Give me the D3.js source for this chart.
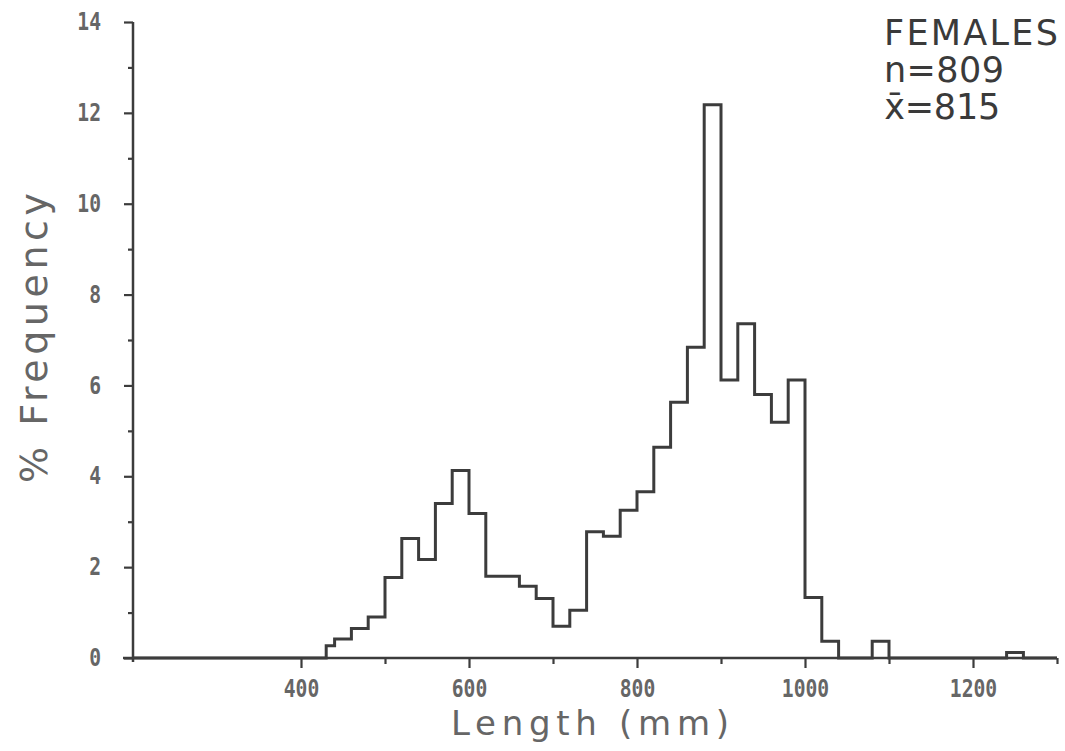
<!DOCTYPE html>
<html>
<head>
<meta charset="utf-8">
<script src="https://cdn.jsdelivr.net/npm/d3@7"></script>
<style>
  html, body { margin: 0; padding: 0; background: #fff; }
  svg { display: block; }
</style>
</head>
<body>
<svg id="chart" width="1065" height="751"></svg>
<script>
// ---- data ----
const binLower = [430, 440, 460, 480, 500, 520, 540, 560, 580, 600, 620, 640, 660, 680, 700, 720,
                  740, 760, 780, 800, 820, 840, 860, 880, 900, 920, 940, 960, 980, 1000, 1020,
                  1040, 1060, 1080, 1100, 1120, 1140, 1160, 1180, 1200, 1220, 1240];
const binUpper = [440, 460, 480, 500, 520, 540, 560, 580, 600, 620, 640, 660, 680, 700, 720, 740,
                  760, 780, 800, 820, 840, 860, 880, 900, 920, 940, 960, 980, 1000, 1020, 1040,
                  1060, 1080, 1100, 1120, 1140, 1160, 1180, 1200, 1220, 1240, 1260];
const pctFreq  = [0.27, 0.42, 0.65, 0.9, 1.77, 2.63, 2.17, 3.4, 4.13, 3.18, 1.8, 1.8, 1.58, 1.31, 0.7, 1.05,
                  2.78, 2.68, 3.25, 3.66, 4.64, 5.63, 6.84, 12.18, 6.12, 7.36, 5.8, 5.19, 6.12, 1.33, 0.37,
                  0, 0, 0.37, 0, 0, 0, 0, 0, 0, 0, 0.12];
const xDomain = [200, 1300];
const yDomain = [0, 14];
const xMajorTicks = [400, 600, 800, 1000, 1200];
const xMinorTicks = [500, 700, 900, 1100, 1300];
const yMajorTicks = [0, 2, 4, 6, 8, 10, 12, 14];
const yMinorTicks = [1, 3, 5, 7, 9, 11, 13];
const legendLines = ["FEMALES", "n=809", "x\u0304=815"];
const xTitle = "Length (mm)";
const yTitle = "% Frequency";

// ---- drawing ----
const ink = "#3c3c3c";
const textInk = "#666";
const svg = d3.select("#chart");

const x = d3.scaleLinear().domain(xDomain).range([133, 1057]);
const y = d3.scaleLinear().domain(yDomain).range([658, 22]);

// x axis (major + minor ticks, below)
const gx = svg.append("g").attr("transform", `translate(0,${y(0)})`);
gx.call(d3.axisBottom(x).tickValues(xMajorTicks).tickSize(10).tickPadding(12).tickFormat(d3.format("d")));
gx.call(g => g.select(".domain").remove());
svg.append("g").attr("transform", `translate(0,${y(0)})`)
  .call(d3.axisBottom(x).tickValues(xMinorTicks).tickSize(6).tickFormat(""))
  .call(g => g.select(".domain").remove());

// y axis
const gy = svg.append("g").attr("transform", `translate(${x(xDomain[0])},0)`);
gy.call(d3.axisLeft(y).tickValues(yMajorTicks).tickSize(9).tickPadding(30).tickFormat(d3.format("d")));
gy.call(g => g.select(".domain").remove());
svg.append("g").attr("transform", `translate(${x(xDomain[0])},0)`)
  .call(d3.axisLeft(y).tickValues(yMinorTicks).tickSize(5).tickFormat(""))
  .call(g => g.select(".domain").remove());

svg.selectAll(".tick line").attr("stroke", ink).attr("stroke-width", 2.2);
svg.selectAll(".tick text")
  .attr("fill", textInk)
  .style("font-family", "'DejaVu Sans Mono'")
  .style("font-size", "24px")
  .style("font-weight", "bold")
  .attr("transform", "scale(0.82,1)");

// axis lines
svg.append("line")
  .attr("x1", x(xDomain[0]) - 10).attr("x2", x(xDomain[1]))
  .attr("y1", y(0)).attr("y2", y(0))
  .attr("stroke", ink).attr("stroke-width", 2.5);
svg.append("line")
  .attr("x1", x(xDomain[0])).attr("x2", x(xDomain[0]))
  .attr("y1", y(0) + 4).attr("y2", y(yDomain[1]))
  .attr("stroke", ink).attr("stroke-width", 2.5);

// histogram outline
const pts = [[xDomain[0], 0], [binLower[0], 0]];
binLower.forEach((lo, i) => {
  pts.push([lo, pctFreq[i]]);
  pts.push([binUpper[i], pctFreq[i]]);
});
pts.push([binUpper[binUpper.length - 1], 0]);
pts.push([xDomain[1], 0]);

svg.append("path")
  .datum(pts)
  .attr("fill", "none")
  .attr("stroke", ink)
  .attr("stroke-width", 3)
  .attr("stroke-linejoin", "miter")
  .attr("d", d3.line().x(d => x(d[0])).y(d => y(d[1])));

// axis titles
svg.append("text")
  .attr("x", 590).attr("y", 735)
  .attr("text-anchor", "middle")
  .attr("font-family", "DejaVu Sans")
  .attr("font-size", 34)
  .attr("fill", textInk)
  .attr("textLength", 278).attr("lengthAdjust", "spacing")
  .text(xTitle);

svg.append("text")
  .attr("transform", "translate(47,338) rotate(-90)")
  .attr("text-anchor", "middle")
  .attr("font-family", "DejaVu Sans")
  .attr("font-size", 38)
  .attr("fill", textInk)
  .attr("textLength", 290).attr("lengthAdjust", "spacing")
  .text(yTitle);

// legend text
const legendWidths = [174, 120, 116];
const legendY = [45, 82, 119];
legendLines.forEach((t, i) => {
  svg.append("text")
    .attr("x", 884).attr("y", legendY[i])
    .attr("font-family", "DejaVu Sans")
    .attr("font-size", 35)
    .attr("fill", "#3a3a3a")
    .attr("textLength", legendWidths[i]).attr("lengthAdjust", "spacing")
    .text(t);
});
</script>
</body>
</html>
